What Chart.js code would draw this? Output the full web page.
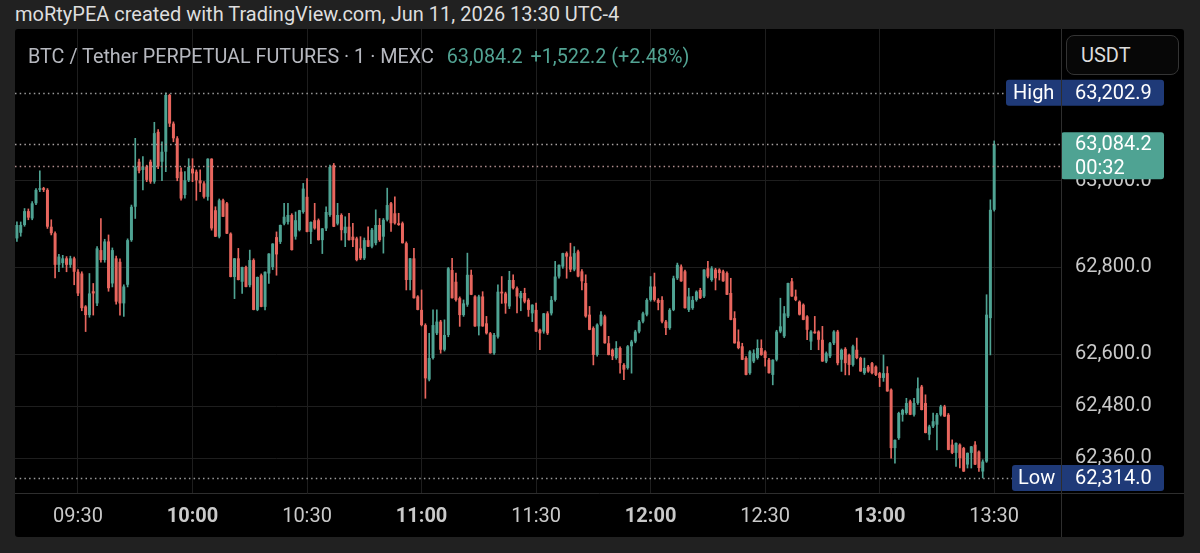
<!DOCTYPE html>
<html>
<head>
<meta charset="utf-8">
<script src="https://cdn.jsdelivr.net/npm/chart.js@4.4.1/dist/chart.umd.min.js"></script>
<style>
html, body { margin:0; padding:0; background:#212121; width:1200px; height:553px; overflow:hidden; font-family: Roboto, "Noto Sans", sans-serif; }
#header { position:absolute; left:15px; top:2px; font-size:20px; color:#dedede; line-height:24px; white-space:nowrap; }
#panel { position:absolute; left:15px; top:29px; width:1169px; height:508px; background:#000; border-radius:3px; overflow:hidden; }
#legend { position:absolute; left:13px; top:16px; font-size:19.8px; color:#b6b8bf; white-space:nowrap; line-height:24px; z-index:2; }
#legend .up { color:#52a393; margin-left:8px; }
#usdt { position:absolute; left:1051px; top:6px; width:113px; height:40px; border:1px solid #343434; border-radius:8px; box-sizing:border-box; color:#dcdcdc; font-size:20px; line-height:38px; padding-left:14px; z-index:2; background:#070707; }
#chart { position:absolute; left:0; top:0; }
</style>
</head>
<body>
<div id="header">moRtyPEA created with TradingView.com, Jun 11, 2026 13:30 UTC-4</div>
<div id="panel">
  <canvas id="chart" width="1169" height="508"></canvas>
  <div id="legend">BTC / Tether PERPETUAL FUTURES · 1 · MEXC <span class="up">63,084.2</span><span class="up">+1,522.2 (+2.48%)</span></div>
  <div id="usdt">USDT</div>
</div>
<script>
// 1 minute candles, 09:14 -> 13:30
var opens = [62867,62880,62898,62930,62913,62948,62979,62983,62979,62894,62879,62806,62810,62821,62806,62821,62790,62786,62710,62690,62745,62717,62840,62817,62860,62763,62821,62813,62717,62760,62863,62940,63044,63025,63033,63044,62998,63113,63044,63067,63198,63132,63098,
  63021,62967,63001,63028,63021,63001,62994,62963,63051,62932,62871,62955,62948,62878,62778,62821,62767,62801,62759,62817,62702,62782,62709,62786,62801,62870,62859,62901,62905,62921,62871,62886,62928,62963,62882,62909,62909,62863,62890,62921,63036,62901,62921,
  62879,62894,62871,62867,62844,62821,62863,62848,62856,62898,62871,62910,62948,62925,62902,62902,62856,62771,62821,62733,62702,62667,62541,62591,62648,62675,62610,62644,62794,62767,62729,62690,62714,62783,62733,62664,62733,62671,62648,62602,62640,62744,62740,
  62710,62771,62752,62729,62741,62725,62694,62702,62656,62652,62694,62694,62725,62779,62802,62833,62825,62795,62837,62791,62764,62691,62660,62598,62668,62687,62625,62610,62591,62614,62575,62568,62618,62629,62652,62675,62691,62725,62756,62725,62725,62675,62660,
  62702,62775,62802,62791,62702,62706,62725,62748,62733,62798,62771,62795,62795,62791,62787,62741,62683,62629,62618,62591,62556,62583,62591,62614,62606,62587,62552,62587,62652,62641,62687,62768,62733,62721,62714,62687,62629,62652,62652,62633,62583,62595,62625,
  62652,62587,62612,62598,62575,62610,62591,62556,62571,62579,62571,62556,62545,62556,62518,62383,62406,62460,62464,62491,62460,62487,62525,62487,62414,62433,62437,62460,62479,62460,62391,62372,62391,62383,62345,62372,62391,62375,62329,62352,62683,62933];

var highs = [62905,62905,62936,62935,62952,62982,63023,62985,62982,62910,62882,62830,62828,62825,62826,62824,62795,62790,62712,62786,62763,62848,62913,62865,62875,62845,62826,62820,62760,62866,62944,63098,63050,63056,63036,63048,63135,63118,63090,63202.9,63200,63136,63102,
  63030,63021,63051,63051,63025,63025,62998,63051,63051,62940,62958,62958,62950,62880,62821,62844,62801,62803,62840,62820,62778,62785,62790,62832,62855,62882,62898,62948,62948,62924,62928,62932,62994,63005,62905,62948,62912,62890,62940,63036,63040,62948,62924,
  62917,62925,62902,62870,62871,62868,62894,62890,62933,62913,62913,62983,62950,62963,62925,62905,62859,62821,62844,62735,62748,62670,62648,62702,62702,62678,62679,62800,62821,62787,62732,62725,62833,62794,62735,62736,62744,62687,62650,62648,62760,62779,62743,
  62791,62783,62755,62745,62752,62728,62714,62718,62658,62694,62698,62733,62814,62806,62833,62836,62856,62848,62840,62795,62783,62710,62663,62670,62698,62690,62641,62612,62629,62617,62578,62620,62632,62655,62678,62697,62728,62779,62787,62728,62733,62678,62705,
  62780,62810,62806,62794,62752,62733,62746,62752,62795,62814,62802,62798,62797,62794,62790,62775,62698,62656,62625,62594,62608,62610,62633,62633,62608,62590,62587,62655,62729,62710,62764,62775,62748,62723,62716,62689,62654,62687,62654,62664,62605,62627,62654,
  62655,62612,62615,62600,62621,62637,62593,62591,62574,62581,62573,62558,62598,62571,62520,62402,62466,62473,62498,62494,62498,62545,62528,62506,62436,62464,62463,62482,62482,62463,62402,62395,62393,62385,62372,62387,62398,62377,62356,62737,62956,63092];

var lows = [62860,62872,62895,62910,62910,62945,62975,62975,62890,62875,62776,62790,62800,62790,62800,62760,62735,62700,62652,62685,62690,62712,62812,62812,62745,62755,62715,62690,62687,62755,62860,62913,63018,62979,62998,62994,62994,63028,63000,63021,63125,63090,63000,
  62955,62960,62998,62998,62955,62975,62960,62955,62886,62871,62868,62917,62878,62778,62728,62771,62740,62755,62755,62702,62700,62709,62702,62763,62795,62782,62855,62898,62900,62840,62865,62884,62925,62882,62855,62888,62863,62832,62885,62918,62894,62898,62863,
  62848,62863,62848,62815,62818,62818,62848,62845,62852,62860,62833,62907,62883,62900,62897,62856,62748,62748,62729,62702,62665,62498,62538,62588,62645,62602,62607,62640,62729,62722,62664,62687,62710,62737,62664,62644,62664,62646,62602,62599,62637,62717,62694,
  62705,62750,62695,62700,62718,62687,62675,62652,62610,62648,62645,62690,62722,62775,62798,62775,62790,62792,62778,62748,62685,62656,62575,62595,62665,62625,62598,62587,62588,62556,62541,62565,62556,62626,62649,62672,62688,62722,62722,62702,62672,62645,62657,
  62700,62772,62768,62706,62698,62703,62722,62728,62730,62776,62768,62748,62771,62768,62737,62679,62625,62612,62587,62552,62553,62580,62588,62597,62572,62556,62529,62584,62649,62638,62684,62733,62723,62690,62679,62633,62610,62648,62610,62583,62580,62592,62622,
  62575,62560,62552,62552,62572,62589,62560,62553,62558,62554,62550,62525,62537,62514,62360,62348,62403,62445,62461,62460,62457,62484,62471,62418,62402,62430,62379,62457,62456,62379,62370,62341,62337,62329,62337,62337,62345,62329,62314,62350,62598,62930];

var closes = [62898,62898,62930,62915,62948,62979,62983,62979,62894,62879,62806,62825,62821,62806,62821,62790,62740,62706,62690,62740,62740,62844,62817,62860,62752,62840,62721,62717,62756,62863,62940,63033,63023,63033,63002,62998,63110,63033,63067,63198,63132,63098,63006,
  62959,63001,63032,63017,63001,62994,62963,63051,62890,62871,62955,62917,62878,62778,62821,62771,62801,62755,62817,62702,62778,62709,62790,62832,62855,62830,62898,62917,62921,62840,62909,62932,62982,62882,62905,62890,62863,62890,62928,63032,62894,62921,62886,
  62894,62863,62863,62817,62821,62863,62848,62887,62898,62863,62910,62944,62902,62902,62898,62856,62771,62821,62729,62702,62667,62544,62591,62667,62675,62610,62644,62798,62729,62725,62690,62717,62783,62737,62664,62733,62664,62648,62602,62644,62744,62740,62717,
  62771,62752,62733,62741,62721,62702,62714,62652,62648,62694,62648,62725,62779,62806,62833,62825,62795,62833,62779,62768,62687,62656,62598,62668,62691,62625,62598,62595,62614,62579,62564,62618,62629,62652,62675,62694,62725,62756,62725,62718,62675,62660,62702,
  62775,62806,62768,62706,62733,62725,62744,62729,62795,62779,62798,62775,62787,62768,62737,62679,62625,62614,62587,62552,62606,62602,62614,62598,62591,62556,62587,62652,62664,62694,62764,62733,62725,62691,62679,62656,62652,62648,62633,62583,62602,62625,62652,
  62579,62610,62579,62575,62618,62591,62560,62568,62560,62556,62552,62545,62556,62514,62383,62402,62464,62471,62487,62460,62487,62521,62471,62418,62433,62445,62460,62479,62456,62379,62372,62395,62360,62329,62372,62387,62345,62337,62352,62691,62933,63084.2];

var yTicks = [62360, 62480, 62600, 62800, 63000];
var timeTicks = ["09:30", "10:00", "10:30", "11:00", "11:30", "12:00", "12:30", "13:00", "13:30"];
var highValue = 63202.9;
var lowValue = 62314.0;
var lastValue = 63084.2;
var markValue = 63033;
var countdown = "00:32";

var UP = "#4fa393";
var DOWN = "#e8665e";
var FONT = "Roboto, 'Noto Sans', sans-serif";

// time labels, one per minute, plus empty space right of the last bar
var labels = [];
for (var i = 0; i < 274; i++) {
  var m = 9 * 60 + 14 + i;
  labels.push(String(Math.floor(m / 60)).padStart(2, "0") + ":" + String(m % 60).padStart(2, "0"));
}
var tickIdx = timeTicks.map(function(t) { return labels.indexOf(t); });

var colors = closes.map(function(c, i) { return c >= opens[i] ? UP : DOWN; });

function fmt(v) {
  return v.toLocaleString("en-US", { minimumFractionDigits: 1, maximumFractionDigits: 1 });
}

function roundBox(ctx, x, y, w, h, fill) {
  ctx.fillStyle = fill;
  ctx.beginPath();
  ctx.roundRect(x, y, w, h, 3);
  ctx.fill();
}

var overlay = {
  id: "overlay",
  afterDraw: function(chart) {
    var ctx = chart.ctx, a = chart.chartArea, y = chart.scales.y;
    var yh = y.getPixelForValue(highValue);
    var yl = y.getPixelForValue(lowValue);
    var yc = y.getPixelForValue(lastValue);
    var ym = y.getPixelForValue(markValue);
    ctx.save();

    // dotted price lines
    ctx.lineWidth = 1.5;
    ctx.setLineDash([1.5, 3.2]);
    function dots(py, x1, col) {
      ctx.strokeStyle = col;
      ctx.beginPath();
      ctx.moveTo(a.left, Math.round(py) + 0.5);
      ctx.lineTo(x1, Math.round(py) + 0.5);
      ctx.stroke();
    }
    dots(yh, 991, "#9a9a9a");
    dots(yl, 997, "#9a9a9a");
    dots(yc, a.right, "#a9a2a2");
    dots(ym, a.right, "#b08c8c");
    ctx.setLineDash([]);

    ctx.font = "20px " + FONT;
    ctx.textBaseline = "middle";
    ctx.textAlign = "left";

    // High label
    roundBox(ctx, 991, yh - 13, 158, 26, "#1f3a78");
    ctx.fillStyle = "#ffffff";
    ctx.fillText("High", 998, yh + 1);
    ctx.fillText(fmt(highValue), a.right + 14, yh + 1);

    // Low label
    roundBox(ctx, 997, yl - 13, 152, 26, "#1f3a78");
    ctx.fillStyle = "#ffffff";
    ctx.fillText("Low", 1003, yl + 1);
    ctx.fillText(fmt(lowValue), a.right + 14, yl + 1);

    // last price + countdown
    roundBox(ctx, a.right, yc - 12, 103, 47, UP);
    ctx.fillStyle = "#ffffff";
    ctx.fillText(fmt(lastValue), a.right + 14, yc + 1);
    ctx.fillText(countdown, a.right + 14, yc + 25);

    // pane separators
    ctx.strokeStyle = "#2e2e2e";
    ctx.lineWidth = 1;
    ctx.beginPath();
    ctx.moveTo(a.right + 0.5, 0);
    ctx.lineTo(a.right + 0.5, chart.height);
    ctx.moveTo(0, a.bottom + 0.5);
    ctx.lineTo(chart.width, a.bottom + 0.5);
    ctx.stroke();
    ctx.restore();
  }
};

new Chart(document.getElementById("chart"), {
  type: "bar",
  data: {
    labels: labels,
    datasets: [
      {
        data: opens.map(function(o, i) { return [o, closes[i]]; }),
        backgroundColor: colors,
        barPercentage: 0.78,
        categoryPercentage: 1,
        minBarLength: 1,
        grouped: false,
        order: 0
      },
      {
        data: lows.map(function(l, i) { return [l, highs[i]]; }),
        backgroundColor: colors,
        barThickness: 1,
        grouped: false,
        order: 1
      }
    ]
  },
  options: {
    responsive: false,
    animation: false,
    layout: { padding: 0 },
    plugins: { legend: { display: false }, tooltip: { enabled: false } },
    scales: {
      x: {
        offset: true,
        grid: { offset: false, color: "#1e1e1e", drawTicks: false },
        border: { display: false },
        afterBuildTicks: function(s) { s.ticks = tickIdx.map(function(i) { return { value: i }; }); },
        afterFit: function(s) { s.height = 44; s.paddingLeft = 0; s.paddingRight = 0; },
        ticks: {
          autoSkip: false,
          maxRotation: 0,
          padding: 12,
          color: "#c9c9c9",
          callback: function(v) { return labels[v]; },
          font: function(c) {
            var lab = labels[tickIdx[c.index]] || "";
            return { family: FONT, size: 20, weight: lab.endsWith(":00") ? "bold" : "normal" };
          }
        }
      },
      y: {
        position: "right",
        min: 62279.4,
        max: 63350.3,
        grid: { color: "#1e1e1e", drawTicks: false },
        border: { display: false },
        afterBuildTicks: function(s) { s.ticks = yTicks.map(function(v) { return { value: v }; }); },
        afterFit: function(s) { s.width = 123; s.paddingTop = 0; s.paddingBottom = 0; },
        ticks: {
          padding: 14,
          color: "#c9c9c9",
          font: { family: FONT, size: 20 },
          callback: function(v) { return fmt(v); }
        }
      }
    }
  },
  plugins: [overlay]
});
</script>
</body>
</html>
